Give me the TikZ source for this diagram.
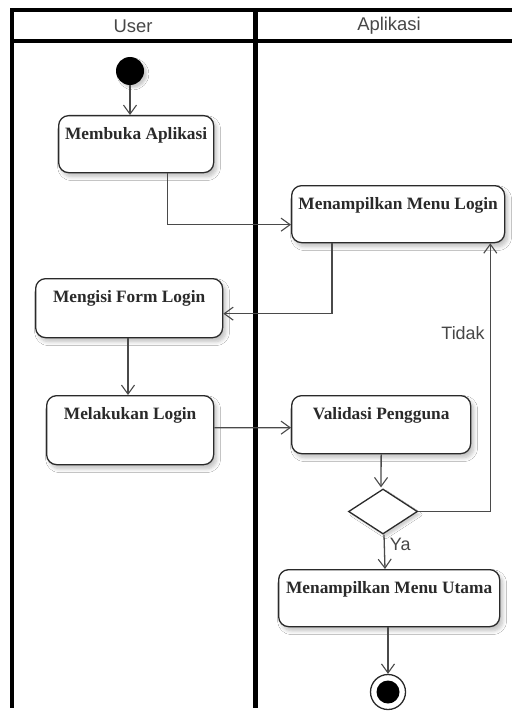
\documentclass[tikz,border=0pt]{standalone}
\usepackage{fontspec}
\setmainfont{Liberation Serif}
\newfontfamily\lanefont{Liberation Sans}
\usetikzlibrary{arrows.meta,shapes.geometric,shadows.blur,calc}

\definecolor{ink}{HTML}{2A2A2A}
\definecolor{lanetext}{HTML}{474747}

\tikzset{
  lane/.style={line width=3.2bp, black},
  act/.style={draw=ink, line width=1.3bp, rounded corners=10bp, fill=white,
    anchor=north west, inner sep=0pt, text height=24bp,
    font=\bfseries\fontsize{17.4}{18}\selectfont, text=ink,
    blur shadow={shadow xshift=3bp, shadow yshift=-4bp, shadow blur steps=6,
      shadow opacity=25, shadow blur radius=4bp}},
  flow/.style={draw=ink!85, line width=1.3bp,
    -{Straight Barb[length=9bp,width=13bp,line width=1.1bp]}},
  guard/.style={font=\lanefont\fontsize{18}{20}\selectfont, text=lanetext, inner sep=0pt},
  lanehead/.style={font=\lanefont\fontsize{18.5}{20}\selectfont, text=lanetext, inner sep=0pt},
}

\begin{document}
\begin{tikzpicture}[x=1bp,y=-1bp]
  \useasboundingbox (0,0) rectangle (512,711);
  \fill[white] (0,0) rectangle (512,711);

  % swimlane frame
  \draw[lane] (12,10) -- (512,10);
  \draw[lane] (12,41) -- (512,41);
  \draw[lane] (12,8.4) -- (12,708);
  \draw[line width=4.2bp] (255.5,8.4) -- (255.5,708);
  \node[lanehead] (hUser) at (133,26) {User};
  \node[lanehead] (hApp) at (389,26) {Aplikasi};

  % initial node
  \node[circle, fill=black, minimum size=28bp, inner sep=0pt,
        blur shadow={shadow xshift=3bp, shadow yshift=-3bp, shadow opacity=20}]
        (start) at (130,71) {};

  % activities
  \node[act, minimum width=155bp, text depth=33bp] (buka) at (58,115) {Membuka Aplikasi};
  \node[act, minimum width=213bp, text depth=33bp] (login) at (291,185) {Menampilkan Menu Login};
  \node[act, minimum width=187bp, text depth=35bp] (isi) at (35,278) {Mengisi Form Login};
  \node[act, minimum width=167bp, text depth=45bp] (lakukan) at (46,395) {Melakukan Login};
  \node[act, minimum width=179bp, text depth=34bp] (valid) at (291,395) {Validasi Pengguna};
  \node[act, minimum width=221bp, text depth=33bp] (utama) at (278,569) {Menampilkan Menu Utama};

  % decision
  \node[diamond, draw=ink, line width=1.3bp, fill=white, inner sep=0pt,
        minimum width=69bp, minimum height=45bp, aspect=1.5,
        blur shadow={shadow xshift=3bp, shadow yshift=-3bp, shadow opacity=18}]
        (cek) at (383,511.5) {};

  % final node
  \node[circle, draw=ink, line width=1.3bp, fill=white, minimum size=35bp, inner sep=0pt]
        (akhir) at (388,692) {};
  \node[circle, fill=black, minimum size=23bp, inner sep=0pt] (akhirIn) at (akhir.center) {};

  % control flow
  \draw[flow] (start) -- (start |- buka.north);
  \draw[flow] ($(buka.south)+(31.5,0)$) |- ($(login.west)+(0,10.5)$);
  \draw[flow] ($(login.south west)+(41,0)$) |- ($(isi.east)+(0,5.5)$);
  \draw[flow] ($(isi.south west)+(93,0)$) -- ($(lakukan.north west)+(82,0)$);
  \draw[flow] ($(lakukan.east)+(0,-2.5)$) -- ($(valid.west)+(0,3)$);
  \draw[flow] (valid.south) -- ($(cek.north)+(-2,-1)$);
  \draw[flow] (cek.east) -| ($(login.south east)+(-15,0)$)
    node[guard, pos=0.833, left=5bp] (tidak) {Tidak};
  \draw[flow] ($(cek.south)+(1,0)$) -- ($(utama.north west)+(107,0)$)
    node[guard, pos=0.28, right=5bp] (ya) {Ya};
  \draw[flow] ($(utama.south west)+(110,0)$) -- (akhir.north);
\end{tikzpicture}
\end{document}
